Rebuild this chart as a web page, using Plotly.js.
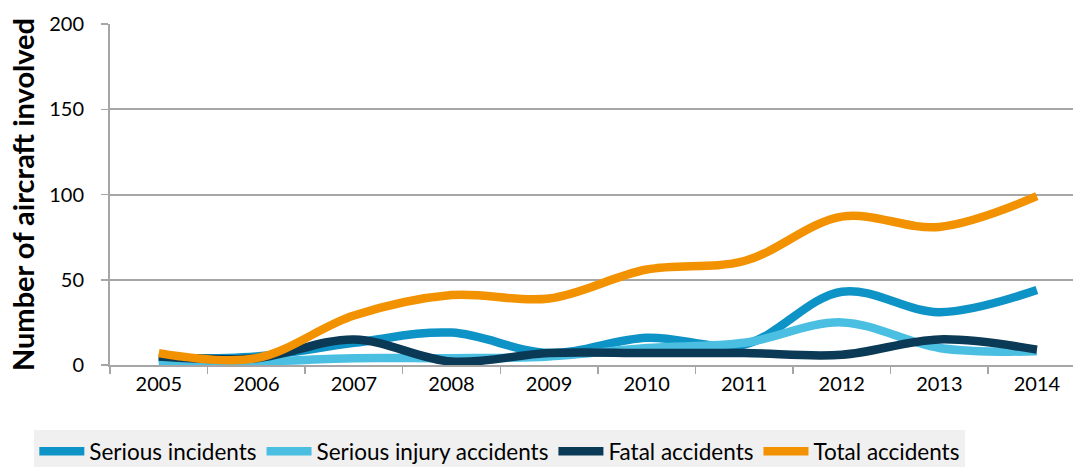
<!DOCTYPE html>
<html>
<head>
<meta charset="utf-8">
<script src="https://cdn.plot.ly/plotly-3.0.1.min.js"></script>
<style>html,body{margin:0;padding:0;background:#fff;}#chart{width:1073px;height:467px;}</style>
</head>
<body>
<div id="chart"></div>
<script>
const years = ['2005','2006','2007','2008','2009','2010','2011','2012','2013','2014'];
const seriousIncidents = [4, 5, 13, 19, 7, 16, 12, 43, 31, 44];
const seriousInjury = [2, 2, 4, 4, 5, 10, 13, 25, 10, 8];
const fatalAccidents = [5, 4, 15, 2, 7, 7, 7, 6, 15, 9];
const totalAccidents = [7, 4, 29, 41, 39, 56, 61, 87, 81, 99];
const seriesNames = ['Serious incidents', 'Serious injury accidents', 'Fatal accidents', 'Total accidents'];
const seriesColors = ['#0e93c6', '#4bbfe2', '#0b3a56', '#f39200'];
const seriesValues = [seriousIncidents, seriousInjury, fatalAccidents, totalAccidents];

const font = 'Lato, "Open Sans", sans-serif';
const traces = seriesValues.map((vals, i) => ({
  type: 'scatter', mode: 'lines', x: years, y: vals, name: seriesNames[i],
  line: {color: seriesColors[i], width: 8.5, shape: 'spline', smoothing: 1},
  hoverinfo: 'skip'
}));

const layout = {
  width: 1073, height: 467,
  margin: {l: 110, r: 0, t: 24, b: 102},
  paper_bgcolor: '#ffffff', plot_bgcolor: '#ffffff',
  font: {family: font, color: '#000000', size: 20},
  showlegend: true,
  legend: {
    orientation: 'h', xref: 'container', yref: 'container',
    x: 0.032, y: 0.079, xanchor: 'left', yanchor: 'top',
    bgcolor: '#f0f0f0', font: {family: font, size: 22.5, color: '#000'},
    itemwidth: 45, tracegroupgap: 0
  },
  xaxis: {
    type: 'category', range: [-0.5, 9.37],
    showline: true, linecolor: '#a6a6a6', linewidth: 2,
    ticks: 'outside', tickson: 'boundaries', ticklen: 7, tickcolor: '#a6a6a6', tickwidth: 1.5,
    showgrid: false, zeroline: false,
    tickfont: {family: font, size: 20, color: '#000'}
  },
  yaxis: {
    range: [0, 200], tickvals: [0, 50, 100, 150, 200], ticktext: ['0','50','100','150','200'],
    showline: true, linecolor: '#a6a6a6', linewidth: 2,
    ticks: 'outside', ticklen: 7, tickcolor: '#a6a6a6', tickwidth: 1.5, ticklabelstandoff: 13,
    showgrid: true, gridcolor: '#a6a6a6', gridwidth: 2, zeroline: false,
    tickfont: {family: font, size: 20, color: '#000'},
    title: {text: '<b>Number of aircraft involved</b>', font: {family: font, size: 29, color: '#000'}, standoff: 6}
  }
};
Plotly.newPlot('chart', traces, layout, {displayModeBar: false, staticPlot: true});
</script>
</body>
</html>
